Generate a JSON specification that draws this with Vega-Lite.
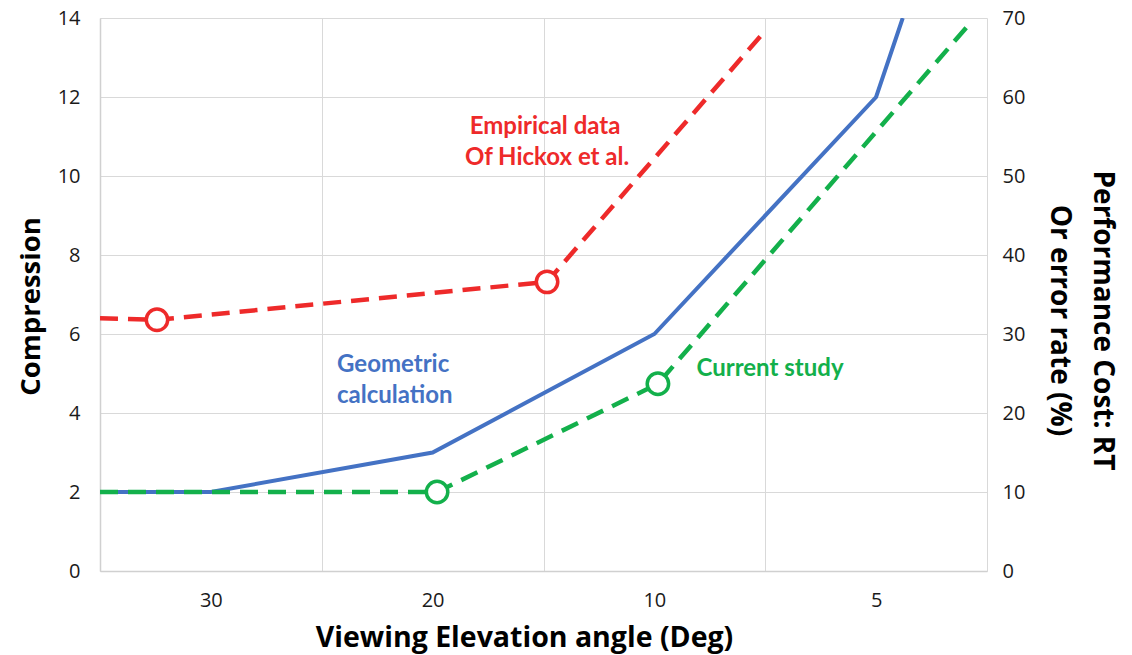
{
  "$schema": "https://vega.github.io/schema/vega-lite/v6.json",
  "width": 887,
  "height": 553,
  "autosize": {"type": "none"},
  "padding": {"left": 100, "top": 18, "right": 145, "bottom": 84},
  "background": "white",
  "config": {"view": {"stroke": null}, "font": "Open Sans"},
  "datasets": {
    "geometric": [
      {"series": "Geometric calculation", "pos": 0, "compression": 2},
      {"series": "Geometric calculation", "pos": 0.5, "compression": 2},
      {"series": "Geometric calculation", "pos": 1.5, "compression": 3},
      {"series": "Geometric calculation", "pos": 2.5, "compression": 6},
      {"series": "Geometric calculation", "pos": 3.5, "compression": 12},
      {"series": "Geometric calculation", "pos": 3.62, "compression": 14}
    ],
    "studies": [
      {"series": "Empirical data", "pos": 0, "cost": 32.0, "marker": false},
      {"series": "Empirical data", "pos": 0.257, "cost": 31.8, "marker": true},
      {"series": "Empirical data", "pos": 2.016, "cost": 36.6, "marker": true},
      {"series": "Empirical data", "pos": 3.0, "cost": 68.4, "marker": false},
      {"series": "Current study", "pos": 0, "cost": 10, "marker": false},
      {"series": "Current study", "pos": 1.52, "cost": 10, "marker": true},
      {"series": "Current study", "pos": 2.516, "cost": 23.7, "marker": true},
      {"series": "Current study", "pos": 3.91, "cost": 68.9, "marker": false}
    ],
    "notesCenter": [
      {"series": "Empirical data", "label": "Empirical data", "pos": 2.007, "compression": 11.24},
      {"series": "Empirical data", "label": "Of Hickox et al.", "pos": 2.016, "compression": 10.46}
    ],
    "notesLeft": [
      {"series": "Geometric calculation", "label": "Geometric", "pos": 1.069, "compression": 5.22},
      {"series": "Geometric calculation", "label": "calculation", "pos": 1.069, "compression": 4.43},
      {"series": "Current study", "label": "Current study", "pos": 2.69, "compression": 5.11}
    ]
  },
  "layer": [
    {
      "layer": [
        {
          "data": {"name": "geometric"},
          "mark": {"type": "line", "strokeWidth": 4, "clip": true},
          "encoding": {
            "x": {"field": "pos", "type": "quantitative", "scale": {"domain": [0, 4], "nice": false, "zero": false},
              "axis": {"orient": "bottom", "values": [0, 1, 2, 3, 4], "grid": true, "gridColor": "#d9d9d9", "gridWidth": 1, "labels": false, "ticks": false, "tickSize": 0, "domain": true, "domainColor": "#d0d0d0", "domainWidth": 1.5, "title": null}},
            "y": {"field": "compression", "type": "quantitative", "scale": {"domain": [0, 14], "nice": false},
              "axis": {"orient": "left", "values": [0, 2, 4, 6, 8, 10, 12, 14], "grid": true, "gridColor": "#d9d9d9", "gridWidth": 1, "ticks": false, "tickSize": 0, "domain": true, "domainColor": "#d0d0d0", "domainWidth": 1.5, "labelFontSize": 20, "labelColor": "#1a1a1a", "labelPadding": 20, "title": "Compression", "titleFontSize": 27.5, "titleFontWeight": "bold", "titleColor": "#000000", "titlePadding": 12, "titleY": 288}},
            "color": {"field": "series", "type": "nominal", "legend": null,
              "scale": {"domain": ["Geometric calculation", "Empirical data", "Current study"], "range": ["#4472C4", "#EE2A2A", "#13B04B"]}}
          }
        },
        {
          "data": {"name": "notesCenter"},
          "mark": {"type": "text", "font": "Lato", "fontWeight": "bold", "fontSize": 24, "align": "center", "baseline": "middle"},
          "encoding": {
            "x": {"field": "pos", "type": "quantitative", "scale": {"domain": [0, 4], "nice": false, "zero": false},
              "axis": {"orient": "bottom", "values": [0, 1, 2, 3, 4], "grid": true, "gridColor": "#d9d9d9", "gridWidth": 1, "labels": false, "ticks": false, "tickSize": 0, "domain": true, "domainColor": "#d0d0d0", "domainWidth": 1.5, "title": null}},
            "y": {"field": "compression", "type": "quantitative", "scale": {"domain": [0, 14], "nice": false},
              "axis": {"orient": "left", "values": [0, 2, 4, 6, 8, 10, 12, 14], "grid": true, "gridColor": "#d9d9d9", "gridWidth": 1, "ticks": false, "tickSize": 0, "domain": true, "domainColor": "#d0d0d0", "domainWidth": 1.5, "labelFontSize": 20, "labelColor": "#1a1a1a", "labelPadding": 20, "title": "Compression", "titleFontSize": 27.5, "titleFontWeight": "bold", "titleColor": "#000000", "titlePadding": 12, "titleY": 288}},
            "text": {"field": "label", "type": "nominal"},
            "color": {"field": "series", "type": "nominal", "legend": null,
              "scale": {"domain": ["Geometric calculation", "Empirical data", "Current study"], "range": ["#4472C4", "#EE2A2A", "#13B04B"]}}
          }
        },
        {
          "data": {"name": "notesLeft"},
          "mark": {"type": "text", "font": "Lato", "fontWeight": "bold", "fontSize": 24, "align": "left", "baseline": "middle"},
          "encoding": {
            "x": {"field": "pos", "type": "quantitative", "scale": {"domain": [0, 4], "nice": false, "zero": false},
              "axis": {"orient": "bottom", "values": [0, 1, 2, 3, 4], "grid": true, "gridColor": "#d9d9d9", "gridWidth": 1, "labels": false, "ticks": false, "tickSize": 0, "domain": true, "domainColor": "#d0d0d0", "domainWidth": 1.5, "title": null}},
            "y": {"field": "compression", "type": "quantitative", "scale": {"domain": [0, 14], "nice": false},
              "axis": {"orient": "left", "values": [0, 2, 4, 6, 8, 10, 12, 14], "grid": true, "gridColor": "#d9d9d9", "gridWidth": 1, "ticks": false, "tickSize": 0, "domain": true, "domainColor": "#d0d0d0", "domainWidth": 1.5, "labelFontSize": 20, "labelColor": "#1a1a1a", "labelPadding": 20, "title": "Compression", "titleFontSize": 27.5, "titleFontWeight": "bold", "titleColor": "#000000", "titlePadding": 12, "titleY": 288}},
            "text": {"field": "label", "type": "nominal"},
            "color": {"field": "series", "type": "nominal", "legend": null,
              "scale": {"domain": ["Geometric calculation", "Empirical data", "Current study"], "range": ["#4472C4", "#EE2A2A", "#13B04B"]}}
          }
        }
      ]
    },
    {
      "data": {"name": "studies"},
      "layer": [
        {
          "mark": {"type": "line", "strokeWidth": 4.5, "strokeDash": [18, 10], "clip": true},
          "encoding": {
            "x": {"field": "pos", "type": "quantitative", "scale": {"domain": [0, 4], "nice": false, "zero": false},
              "axis": {"orient": "bottom", "values": [0.5, 1.5, 2.5, 3.5], "labelExpr": "datum.value == 0.5 ? '30' : datum.value == 1.5 ? '20' : datum.value == 2.5 ? '10' : '5'", "grid": false, "ticks": false, "tickSize": 0, "domain": false, "labelFontSize": 20, "labelColor": "#1a1a1a", "labelPadding": 19, "title": "Viewing Elevation angle (Deg)", "titleFontSize": 28.5, "titleFontWeight": "bold", "titleColor": "#000000", "titlePadding": 13, "titleX": 424}},
            "y": {"field": "cost", "type": "quantitative", "scale": {"domain": [0, 70], "nice": false},
              "axis": {"orient": "right", "values": [0, 10, 20, 30, 40, 50, 60, 70], "grid": false, "ticks": false, "tickSize": 0, "domain": false, "labelFontSize": 20, "labelColor": "#1a1a1a", "labelPadding": 15, "title": ["Performance Cost: RT", "Or error rate (%)"], "titleFontSize": 28, "titleFontWeight": "bold", "titleColor": "#000000", "titleLineHeight": 43, "titlePadding": 20, "titleY": 302}},
            "color": {"field": "series", "type": "nominal", "legend": null,
              "scale": {"domain": ["Geometric calculation", "Empirical data", "Current study"], "range": ["#4472C4", "#EE2A2A", "#13B04B"]}}
          }
        },
        {
          "transform": [{"filter": "datum.marker"}],
          "mark": {"type": "point", "shape": "circle", "filled": false, "fill": "white", "fillOpacity": 1, "size": 460, "strokeWidth": 3.5, "opacity": 1},
          "encoding": {
            "x": {"field": "pos", "type": "quantitative", "scale": {"domain": [0, 4], "nice": false, "zero": false},
              "axis": {"orient": "bottom", "values": [0.5, 1.5, 2.5, 3.5], "labelExpr": "datum.value == 0.5 ? '30' : datum.value == 1.5 ? '20' : datum.value == 2.5 ? '10' : '5'", "grid": false, "ticks": false, "tickSize": 0, "domain": false, "labelFontSize": 20, "labelColor": "#1a1a1a", "labelPadding": 19, "title": "Viewing Elevation angle (Deg)", "titleFontSize": 28.5, "titleFontWeight": "bold", "titleColor": "#000000", "titlePadding": 13, "titleX": 424}},
            "y": {"field": "cost", "type": "quantitative", "scale": {"domain": [0, 70], "nice": false},
              "axis": {"orient": "right", "values": [0, 10, 20, 30, 40, 50, 60, 70], "grid": false, "ticks": false, "tickSize": 0, "domain": false, "labelFontSize": 20, "labelColor": "#1a1a1a", "labelPadding": 15, "title": ["Performance Cost: RT", "Or error rate (%)"], "titleFontSize": 28, "titleFontWeight": "bold", "titleColor": "#000000", "titleLineHeight": 43, "titlePadding": 20, "titleY": 302}},
            "color": {"field": "series", "type": "nominal", "legend": null,
              "scale": {"domain": ["Geometric calculation", "Empirical data", "Current study"], "range": ["#4472C4", "#EE2A2A", "#13B04B"]}}
          }
        }
      ]
    }
  ],
  "resolve": {"scale": {"y": "independent"}, "axis": {"x": "independent", "y": "independent"}}
}
